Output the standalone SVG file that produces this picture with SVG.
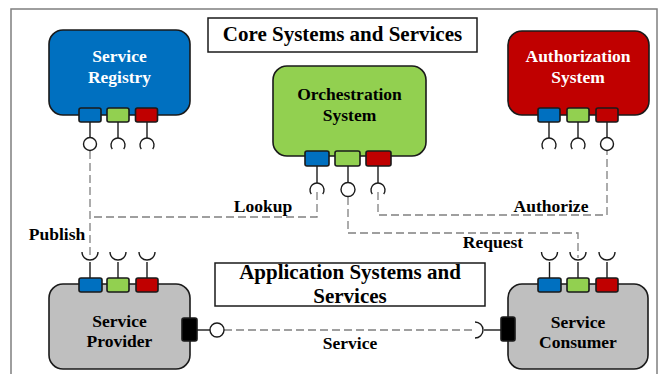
<svg xmlns="http://www.w3.org/2000/svg" width="661" height="374" viewBox="0 0 661 374">
<defs>
<style>
.node{stroke:#1a1a1a;stroke-width:1.6}
.port{stroke:#1a1a1a;stroke-width:1.6}
.blue{fill:#0070C0}.green{fill:#92D050}.red{fill:#C00000}.grey{fill:#BFBFBF}.blk{fill:#000}
.stem{stroke:#1a1a1a;stroke-width:1.4;fill:none}
.lolli{stroke:#1a1a1a;stroke-width:1.4;fill:#fff}
.dash{stroke:#808080;stroke-width:1.3;fill:none;stroke-dasharray:8 4}
text{font-family:"Liberation Serif","Times New Roman",serif;font-weight:bold;text-anchor:middle}
.lbl{font-size:17.5px;fill:#000}
.wl{font-size:17.5px;fill:#fff}
.title{font-size:21px;fill:#000}
.tbox{fill:#fff;stroke:#1a1a1a;stroke-width:1.5}
</style>
</defs>
<rect x="11" y="9" width="646" height="380" fill="#fff" stroke="#7f7f7f" stroke-width="1.5"/>

<g id="connectors">
  <path class="dash" d="M90,151 V258"/>
  <path class="dash" d="M317,192 V217 H90"/>
  <path class="dash" d="M348,197 V233 H578 V258"/>
  <path class="dash" d="M378,192 V215 H607 V151"/>
  <path class="dash" d="M224,330 H476"/>
  <text class="lbl" x="57" y="240">Publish</text>
  <text class="lbl" x="263" y="212">Lookup</text>
  <text class="lbl" x="551" y="212">Authorize</text>
  <text class="lbl" x="493" y="248">Request</text>
  <text class="lbl" x="350" y="349">Service</text>
</g>

<g id="title-core">
  <rect class="tbox" x="208" y="18" width="269" height="34"/>
  <text class="title" x="342.5" y="41">Core Systems and Services</text>
</g>

<g id="service-registry">
  <rect class="node blue" x="49" y="30" width="141" height="85" rx="14"/>
  <text class="wl" x="119.5" y="62">Service</text>
  <text class="wl" x="119.5" y="83">Registry</text>
  <line class="stem" x1="90" y1="122" x2="90" y2="137.5"/>
  <line class="stem" x1="118" y1="122" x2="118" y2="138"/>
  <line class="stem" x1="147" y1="122" x2="147" y2="138"/>
  <rect class="port blue" x="79" y="108" width="22" height="14" rx="2"/>
  <rect class="port green" x="107" y="108" width="22" height="14" rx="2"/>
  <rect class="port red" x="135.5" y="108" width="22" height="14" rx="2"/>
  <circle class="lolli" cx="90" cy="144" r="6.5"/>
  <path class="stem" d="M112.3,149 A7,7 0 1 1 123.7,149"/>
  <path class="stem" d="M141.3,149 A7,7 0 1 1 152.7,149"/>
</g>

<g id="orchestration-system">
  <rect class="node green" x="273" y="66" width="153" height="90" rx="14"/>
  <text class="lbl" x="349.5" y="100">Orchestration</text>
  <text class="lbl" x="349.5" y="121">System</text>
  <line class="stem" x1="317" y1="166" x2="317" y2="183"/>
  <line class="stem" x1="348" y1="166" x2="348" y2="182.5"/>
  <line class="stem" x1="378" y1="166" x2="378" y2="183"/>
  <rect class="port blue" x="305" y="151" width="24" height="15" rx="2"/>
  <rect class="port green" x="335" y="151" width="25" height="15" rx="2"/>
  <rect class="port red" x="366" y="151" width="25" height="15" rx="2"/>
  <path class="stem" d="M311.3,194 A7,7 0 1 1 322.7,194"/>
  <circle class="lolli" cx="348" cy="189.5" r="7"/>
  <path class="stem" d="M372.3,194 A7,7 0 1 1 383.7,194"/>
</g>

<g id="authorization-system">
  <rect class="node red" x="508" y="31" width="141" height="84" rx="14"/>
  <text class="wl" x="578" y="62">Authorization</text>
  <text class="wl" x="578" y="83">System</text>
  <line class="stem" x1="549" y1="122" x2="549" y2="138"/>
  <line class="stem" x1="578" y1="122" x2="578" y2="138"/>
  <line class="stem" x1="607" y1="122" x2="607" y2="137.5"/>
  <rect class="port blue" x="538" y="108" width="22" height="14" rx="2"/>
  <rect class="port green" x="567" y="108" width="22" height="14" rx="2"/>
  <rect class="port red" x="596" y="108" width="22" height="14" rx="2"/>
  <path class="stem" d="M543.3,149 A7,7 0 1 1 554.7,149"/>
  <path class="stem" d="M572.3,149 A7,7 0 1 1 583.7,149"/>
  <circle class="lolli" cx="607" cy="144" r="6.5"/>
</g>

<g id="title-app">
  <rect class="tbox" x="215" y="263" width="270" height="43"/>
  <text class="title" x="350" y="279">Application Systems and</text>
  <text class="title" x="350" y="303">Services</text>
</g>

<g id="service-provider">
  <rect class="node grey" x="49" y="284" width="141" height="85" rx="14"/>
  <text class="lbl" x="119.5" y="327">Service</text>
  <text class="lbl" x="119.5" y="347">Provider</text>
  <line class="stem" x1="90" y1="262" x2="90" y2="278"/>
  <line class="stem" x1="118" y1="262" x2="118" y2="278"/>
  <line class="stem" x1="147" y1="262" x2="147" y2="278"/>
  <path class="stem" d="M82,252 A8,8 0 0 0 98,252"/>
  <path class="stem" d="M110,252 A8,8 0 0 0 126,252"/>
  <path class="stem" d="M139,252 A8,8 0 0 0 155,252"/>
  <rect class="port blue" x="79" y="278" width="23" height="14" rx="2"/>
  <rect class="port green" x="107" y="278" width="22" height="14" rx="2"/>
  <rect class="port red" x="136" y="278" width="22" height="14" rx="2"/>
  <line class="stem" x1="197" y1="330" x2="210" y2="330"/>
  <rect class="port blk" x="182" y="318" width="15" height="23" rx="2"/>
  <circle class="lolli" cx="217" cy="330" r="7"/>
</g>

<g id="service-consumer">
  <rect class="node grey" x="508" y="284" width="140" height="85" rx="14"/>
  <text class="lbl" x="578" y="328">Service</text>
  <text class="lbl" x="578" y="348">Consumer</text>
  <line class="stem" x1="549.5" y1="262" x2="549.5" y2="278"/>
  <line class="stem" x1="578" y1="262" x2="578" y2="278"/>
  <line class="stem" x1="607" y1="262" x2="607" y2="278"/>
  <path class="stem" d="M541.5,252 A8,8 0 0 0 557.5,252"/>
  <path class="stem" d="M570,252 A8,8 0 0 0 586,252"/>
  <path class="stem" d="M599,252 A8,8 0 0 0 615,252"/>
  <rect class="port blue" x="538" y="278" width="23" height="14" rx="2"/>
  <rect class="port green" x="567" y="278" width="22" height="14" rx="2"/>
  <rect class="port red" x="596" y="278" width="22" height="14" rx="2"/>
  <line class="stem" x1="484" y1="330" x2="501" y2="330"/>
  <path class="stem" d="M475,322 A8,8 0 0 1 475,338"/>
  <rect class="port blk" x="501" y="317" width="14" height="24" rx="2"/>
</g>
</svg>
